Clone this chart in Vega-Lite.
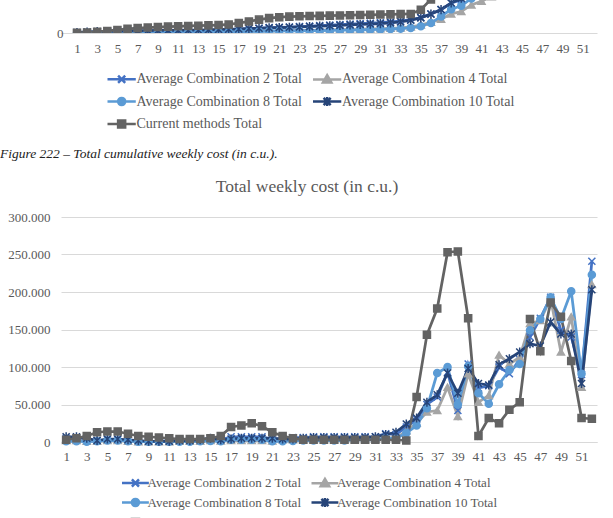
{
  "$schema": "https://vega.github.io/schema/vega-lite/v6.json",
  "padding": 0,
  "background": "white",
  "bounds": "flush",
  "spacing": 70,
  "resolve": {"scale": {"color": "independent", "stroke": "independent", "shape": "independent"}, "legend": {"color": "independent", "stroke": "independent", "shape": "independent"}},
  "config": {
    "font": "Liberation Serif",
    "view": {"stroke": null},
    "locale": {"number": {"decimal": ",", "thousands": ".", "grouping": [3], "currency": ["", " €"]}},
    "axis": {"labelFont": "Liberation Serif", "labelFontSize": 13, "labelColor": "#595959", "domainColor": "#d9d9d9", "gridColor": "#d9d9d9", "ticks": false, "title": null},
    "legend": {"labelFont": "Liberation Serif", "labelFontSize": 13, "labelColor": "#595959", "labelLimit": 400},
    "title": {"font": "Liberation Serif", "fontWeight": "normal"}
  },
  "datasets": {
    "weekly": [
      {"week": 1, "Average Combination 2 Total": 5000, "Average Combination 4 Total": 2000, "Average Combination 8 Total": 1000, "Average Combination 10 Total": 7000, "Current methods Total": 3000},
      {"week": 2, "Average Combination 2 Total": 5000, "Average Combination 4 Total": 2000, "Average Combination 8 Total": 1000, "Average Combination 10 Total": 7000, "Current methods Total": 5000},
      {"week": 3, "Average Combination 2 Total": 4000, "Average Combination 4 Total": 1000, "Average Combination 8 Total": 500, "Average Combination 10 Total": 5000, "Current methods Total": 8000},
      {"week": 4, "Average Combination 2 Total": 2000, "Average Combination 4 Total": 1000, "Average Combination 8 Total": 1000, "Average Combination 10 Total": 2000, "Current methods Total": 13000},
      {"week": 5, "Average Combination 2 Total": 3000, "Average Combination 4 Total": 2000, "Average Combination 8 Total": 2000, "Average Combination 10 Total": 4000, "Current methods Total": 14000},
      {"week": 6, "Average Combination 2 Total": 3000, "Average Combination 4 Total": 2000, "Average Combination 8 Total": 2000, "Average Combination 10 Total": 4000, "Current methods Total": 14000},
      {"week": 7, "Average Combination 2 Total": 2000, "Average Combination 4 Total": 1000, "Average Combination 8 Total": 1000, "Average Combination 10 Total": 3000, "Current methods Total": 11000},
      {"week": 8, "Average Combination 2 Total": 1000, "Average Combination 4 Total": 500, "Average Combination 8 Total": 500, "Average Combination 10 Total": 2000, "Current methods Total": 8000},
      {"week": 9, "Average Combination 2 Total": 1000, "Average Combination 4 Total": 500, "Average Combination 8 Total": 500, "Average Combination 10 Total": 1000, "Current methods Total": 7000},
      {"week": 10, "Average Combination 2 Total": 1000, "Average Combination 4 Total": 500, "Average Combination 8 Total": 500, "Average Combination 10 Total": 1000, "Current methods Total": 6000},
      {"week": 11, "Average Combination 2 Total": 2000, "Average Combination 4 Total": 500, "Average Combination 8 Total": 500, "Average Combination 10 Total": 1000, "Current methods Total": 5000},
      {"week": 12, "Average Combination 2 Total": 3000, "Average Combination 4 Total": 1000, "Average Combination 8 Total": 500, "Average Combination 10 Total": 2000, "Current methods Total": 4000},
      {"week": 13, "Average Combination 2 Total": 3000, "Average Combination 4 Total": 1000, "Average Combination 8 Total": 500, "Average Combination 10 Total": 2000, "Current methods Total": 4000},
      {"week": 14, "Average Combination 2 Total": 3000, "Average Combination 4 Total": 1000, "Average Combination 8 Total": 1000, "Average Combination 10 Total": 3000, "Current methods Total": 4000},
      {"week": 15, "Average Combination 2 Total": 5000, "Average Combination 4 Total": 2000, "Average Combination 8 Total": 1500, "Average Combination 10 Total": 5000, "Current methods Total": 5000},
      {"week": 16, "Average Combination 2 Total": 3000, "Average Combination 4 Total": 1500, "Average Combination 8 Total": 1000, "Average Combination 10 Total": 3000, "Current methods Total": 8000},
      {"week": 17, "Average Combination 2 Total": 7000, "Average Combination 4 Total": 2000, "Average Combination 8 Total": 3000, "Average Combination 10 Total": 4000, "Current methods Total": 20000},
      {"week": 18, "Average Combination 2 Total": 7000, "Average Combination 4 Total": 2000, "Average Combination 8 Total": 3000, "Average Combination 10 Total": 5000, "Current methods Total": 22000},
      {"week": 19, "Average Combination 2 Total": 7000, "Average Combination 4 Total": 2000, "Average Combination 8 Total": 3000, "Average Combination 10 Total": 5000, "Current methods Total": 25000},
      {"week": 20, "Average Combination 2 Total": 7000, "Average Combination 4 Total": 2000, "Average Combination 8 Total": 3000, "Average Combination 10 Total": 5000, "Current methods Total": 21000},
      {"week": 21, "Average Combination 2 Total": 4000, "Average Combination 4 Total": 1500, "Average Combination 8 Total": 1000, "Average Combination 10 Total": 5000, "Current methods Total": 13000},
      {"week": 22, "Average Combination 2 Total": 5000, "Average Combination 4 Total": 3000, "Average Combination 8 Total": 1000, "Average Combination 10 Total": 4000, "Current methods Total": 8000},
      {"week": 23, "Average Combination 2 Total": 6000, "Average Combination 4 Total": 3000, "Average Combination 8 Total": 1500, "Average Combination 10 Total": 4000, "Current methods Total": 5000},
      {"week": 24, "Average Combination 2 Total": 6000, "Average Combination 4 Total": 3000, "Average Combination 8 Total": 2000, "Average Combination 10 Total": 5000, "Current methods Total": 3000},
      {"week": 25, "Average Combination 2 Total": 7000, "Average Combination 4 Total": 3000, "Average Combination 8 Total": 2000, "Average Combination 10 Total": 6000, "Current methods Total": 3000},
      {"week": 26, "Average Combination 2 Total": 7000, "Average Combination 4 Total": 3000, "Average Combination 8 Total": 2000, "Average Combination 10 Total": 6000, "Current methods Total": 3000},
      {"week": 27, "Average Combination 2 Total": 7000, "Average Combination 4 Total": 3000, "Average Combination 8 Total": 2000, "Average Combination 10 Total": 6000, "Current methods Total": 3000},
      {"week": 28, "Average Combination 2 Total": 7000, "Average Combination 4 Total": 3000, "Average Combination 8 Total": 2000, "Average Combination 10 Total": 6000, "Current methods Total": 3000},
      {"week": 29, "Average Combination 2 Total": 7000, "Average Combination 4 Total": 3000, "Average Combination 8 Total": 3000, "Average Combination 10 Total": 6000, "Current methods Total": 3000},
      {"week": 30, "Average Combination 2 Total": 7000, "Average Combination 4 Total": 3000, "Average Combination 8 Total": 3000, "Average Combination 10 Total": 6000, "Current methods Total": 3000},
      {"week": 31, "Average Combination 2 Total": 7000, "Average Combination 4 Total": 4000, "Average Combination 8 Total": 3000, "Average Combination 10 Total": 7000, "Current methods Total": 3000},
      {"week": 32, "Average Combination 2 Total": 11000, "Average Combination 4 Total": 6000, "Average Combination 8 Total": 5000, "Average Combination 10 Total": 10000, "Current methods Total": 3000},
      {"week": 33, "Average Combination 2 Total": 10000, "Average Combination 4 Total": 5000, "Average Combination 8 Total": 5000, "Average Combination 10 Total": 13000, "Current methods Total": 3000},
      {"week": 34, "Average Combination 2 Total": 20000, "Average Combination 4 Total": 15000, "Average Combination 8 Total": 12000, "Average Combination 10 Total": 24000, "Current methods Total": 2000},
      {"week": 35, "Average Combination 2 Total": 30000, "Average Combination 4 Total": 25000, "Average Combination 8 Total": 22000, "Average Combination 10 Total": 32000, "Current methods Total": 60000},
      {"week": 36, "Average Combination 2 Total": 50000, "Average Combination 4 Total": 40000, "Average Combination 8 Total": 45000, "Average Combination 10 Total": 53000, "Current methods Total": 143000},
      {"week": 37, "Average Combination 2 Total": 60000, "Average Combination 4 Total": 42000, "Average Combination 8 Total": 92000, "Average Combination 10 Total": 63000, "Current methods Total": 178000},
      {"week": 38, "Average Combination 2 Total": 93000, "Average Combination 4 Total": 73000, "Average Combination 8 Total": 100000, "Average Combination 10 Total": 92000, "Current methods Total": 253000},
      {"week": 39, "Average Combination 2 Total": 42000, "Average Combination 4 Total": 34000, "Average Combination 8 Total": 50000, "Average Combination 10 Total": 65000, "Current methods Total": 254000},
      {"week": 40, "Average Combination 2 Total": 104000, "Average Combination 4 Total": 91000, "Average Combination 8 Total": 101000, "Average Combination 10 Total": 98000, "Current methods Total": 165000},
      {"week": 41, "Average Combination 2 Total": 72000, "Average Combination 4 Total": 53000, "Average Combination 8 Total": 65000, "Average Combination 10 Total": 78000, "Current methods Total": 8000},
      {"week": 42, "Average Combination 2 Total": 75000, "Average Combination 4 Total": 62000, "Average Combination 8 Total": 51000, "Average Combination 10 Total": 76000, "Current methods Total": 32000},
      {"week": 43, "Average Combination 2 Total": 100000, "Average Combination 4 Total": 116000, "Average Combination 8 Total": 77000, "Average Combination 10 Total": 103000, "Current methods Total": 25000},
      {"week": 44, "Average Combination 2 Total": 91000, "Average Combination 4 Total": 104000, "Average Combination 8 Total": 96000, "Average Combination 10 Total": 111000, "Current methods Total": 43000},
      {"week": 45, "Average Combination 2 Total": 110000, "Average Combination 4 Total": 113000, "Average Combination 8 Total": 104000, "Average Combination 10 Total": 120000, "Current methods Total": 53000},
      {"week": 46, "Average Combination 2 Total": 140000, "Average Combination 4 Total": 158000, "Average Combination 8 Total": 149000, "Average Combination 10 Total": 131000, "Current methods Total": 164000},
      {"week": 47, "Average Combination 2 Total": 165000, "Average Combination 4 Total": 162000, "Average Combination 8 Total": 164000, "Average Combination 10 Total": 128000, "Current methods Total": 121000},
      {"week": 48, "Average Combination 2 Total": 193000, "Average Combination 4 Total": 191000, "Average Combination 8 Total": 193000, "Average Combination 10 Total": 160000, "Current methods Total": 186000},
      {"week": 49, "Average Combination 2 Total": 149000, "Average Combination 4 Total": 120000, "Average Combination 8 Total": 164000, "Average Combination 10 Total": 144000, "Current methods Total": 167000},
      {"week": 50, "Average Combination 2 Total": 140000, "Average Combination 4 Total": 167000, "Average Combination 8 Total": 201000, "Average Combination 10 Total": 144000, "Current methods Total": 108000},
      {"week": 51, "Average Combination 2 Total": 90000, "Average Combination 4 Total": 73000, "Average Combination 8 Total": 91000, "Average Combination 10 Total": 78000, "Current methods Total": 32000},
      {"week": 52, "Average Combination 2 Total": 241000, "Average Combination 4 Total": 210000, "Average Combination 8 Total": 223000, "Average Combination 10 Total": 203000, "Current methods Total": 31000}
    ],
    "cumulative": [
      {"week": 1, "Average Combination 2 Total": 5000, "Average Combination 4 Total": 2000, "Average Combination 8 Total": 1000, "Average Combination 10 Total": 7000, "Current methods Total": 3000},
      {"week": 2, "Average Combination 2 Total": 10000, "Average Combination 4 Total": 4000, "Average Combination 8 Total": 2000, "Average Combination 10 Total": 14000, "Current methods Total": 8000},
      {"week": 3, "Average Combination 2 Total": 14000, "Average Combination 4 Total": 5000, "Average Combination 8 Total": 2500, "Average Combination 10 Total": 19000, "Current methods Total": 16000},
      {"week": 4, "Average Combination 2 Total": 16000, "Average Combination 4 Total": 6000, "Average Combination 8 Total": 3500, "Average Combination 10 Total": 21000, "Current methods Total": 29000},
      {"week": 5, "Average Combination 2 Total": 19000, "Average Combination 4 Total": 8000, "Average Combination 8 Total": 5500, "Average Combination 10 Total": 25000, "Current methods Total": 43000},
      {"week": 6, "Average Combination 2 Total": 22000, "Average Combination 4 Total": 10000, "Average Combination 8 Total": 7500, "Average Combination 10 Total": 29000, "Current methods Total": 57000},
      {"week": 7, "Average Combination 2 Total": 24000, "Average Combination 4 Total": 11000, "Average Combination 8 Total": 8500, "Average Combination 10 Total": 32000, "Current methods Total": 68000},
      {"week": 8, "Average Combination 2 Total": 25000, "Average Combination 4 Total": 11500, "Average Combination 8 Total": 9000, "Average Combination 10 Total": 34000, "Current methods Total": 76000},
      {"week": 9, "Average Combination 2 Total": 26000, "Average Combination 4 Total": 12000, "Average Combination 8 Total": 9500, "Average Combination 10 Total": 35000, "Current methods Total": 83000},
      {"week": 10, "Average Combination 2 Total": 27000, "Average Combination 4 Total": 12500, "Average Combination 8 Total": 10000, "Average Combination 10 Total": 36000, "Current methods Total": 89000},
      {"week": 11, "Average Combination 2 Total": 29000, "Average Combination 4 Total": 13000, "Average Combination 8 Total": 10500, "Average Combination 10 Total": 37000, "Current methods Total": 94000},
      {"week": 12, "Average Combination 2 Total": 32000, "Average Combination 4 Total": 14000, "Average Combination 8 Total": 11000, "Average Combination 10 Total": 39000, "Current methods Total": 98000},
      {"week": 13, "Average Combination 2 Total": 35000, "Average Combination 4 Total": 15000, "Average Combination 8 Total": 11500, "Average Combination 10 Total": 41000, "Current methods Total": 102000},
      {"week": 14, "Average Combination 2 Total": 38000, "Average Combination 4 Total": 16000, "Average Combination 8 Total": 12500, "Average Combination 10 Total": 44000, "Current methods Total": 106000},
      {"week": 15, "Average Combination 2 Total": 43000, "Average Combination 4 Total": 18000, "Average Combination 8 Total": 14000, "Average Combination 10 Total": 49000, "Current methods Total": 111000},
      {"week": 16, "Average Combination 2 Total": 46000, "Average Combination 4 Total": 19500, "Average Combination 8 Total": 15000, "Average Combination 10 Total": 52000, "Current methods Total": 119000},
      {"week": 17, "Average Combination 2 Total": 53000, "Average Combination 4 Total": 21500, "Average Combination 8 Total": 18000, "Average Combination 10 Total": 56000, "Current methods Total": 139000},
      {"week": 18, "Average Combination 2 Total": 60000, "Average Combination 4 Total": 23500, "Average Combination 8 Total": 21000, "Average Combination 10 Total": 61000, "Current methods Total": 161000},
      {"week": 19, "Average Combination 2 Total": 67000, "Average Combination 4 Total": 25500, "Average Combination 8 Total": 24000, "Average Combination 10 Total": 66000, "Current methods Total": 186000},
      {"week": 20, "Average Combination 2 Total": 74000, "Average Combination 4 Total": 27500, "Average Combination 8 Total": 27000, "Average Combination 10 Total": 71000, "Current methods Total": 207000},
      {"week": 21, "Average Combination 2 Total": 78000, "Average Combination 4 Total": 29000, "Average Combination 8 Total": 28000, "Average Combination 10 Total": 76000, "Current methods Total": 220000},
      {"week": 22, "Average Combination 2 Total": 83000, "Average Combination 4 Total": 32000, "Average Combination 8 Total": 29000, "Average Combination 10 Total": 80000, "Current methods Total": 228000},
      {"week": 23, "Average Combination 2 Total": 89000, "Average Combination 4 Total": 35000, "Average Combination 8 Total": 30500, "Average Combination 10 Total": 84000, "Current methods Total": 233000},
      {"week": 24, "Average Combination 2 Total": 95000, "Average Combination 4 Total": 38000, "Average Combination 8 Total": 32500, "Average Combination 10 Total": 89000, "Current methods Total": 236000},
      {"week": 25, "Average Combination 2 Total": 102000, "Average Combination 4 Total": 41000, "Average Combination 8 Total": 34500, "Average Combination 10 Total": 95000, "Current methods Total": 239000},
      {"week": 26, "Average Combination 2 Total": 109000, "Average Combination 4 Total": 44000, "Average Combination 8 Total": 36500, "Average Combination 10 Total": 101000, "Current methods Total": 242000},
      {"week": 27, "Average Combination 2 Total": 116000, "Average Combination 4 Total": 47000, "Average Combination 8 Total": 38500, "Average Combination 10 Total": 107000, "Current methods Total": 245000},
      {"week": 28, "Average Combination 2 Total": 123000, "Average Combination 4 Total": 50000, "Average Combination 8 Total": 40500, "Average Combination 10 Total": 113000, "Current methods Total": 248000},
      {"week": 29, "Average Combination 2 Total": 130000, "Average Combination 4 Total": 53000, "Average Combination 8 Total": 43500, "Average Combination 10 Total": 119000, "Current methods Total": 251000},
      {"week": 30, "Average Combination 2 Total": 137000, "Average Combination 4 Total": 56000, "Average Combination 8 Total": 46500, "Average Combination 10 Total": 125000, "Current methods Total": 254000},
      {"week": 31, "Average Combination 2 Total": 144000, "Average Combination 4 Total": 60000, "Average Combination 8 Total": 49500, "Average Combination 10 Total": 132000, "Current methods Total": 257000},
      {"week": 32, "Average Combination 2 Total": 155000, "Average Combination 4 Total": 66000, "Average Combination 8 Total": 54500, "Average Combination 10 Total": 142000, "Current methods Total": 260000},
      {"week": 33, "Average Combination 2 Total": 165000, "Average Combination 4 Total": 71000, "Average Combination 8 Total": 59500, "Average Combination 10 Total": 155000, "Current methods Total": 263000},
      {"week": 34, "Average Combination 2 Total": 185000, "Average Combination 4 Total": 86000, "Average Combination 8 Total": 71500, "Average Combination 10 Total": 179000, "Current methods Total": 265000},
      {"week": 35, "Average Combination 2 Total": 215000, "Average Combination 4 Total": 111000, "Average Combination 8 Total": 93500, "Average Combination 10 Total": 211000, "Current methods Total": 325000},
      {"week": 36, "Average Combination 2 Total": 265000, "Average Combination 4 Total": 151000, "Average Combination 8 Total": 138500, "Average Combination 10 Total": 264000, "Current methods Total": 468000},
      {"week": 37, "Average Combination 2 Total": 325000, "Average Combination 4 Total": 193000, "Average Combination 8 Total": 230500, "Average Combination 10 Total": 327000, "Current methods Total": 646000},
      {"week": 38, "Average Combination 2 Total": 418000, "Average Combination 4 Total": 266000, "Average Combination 8 Total": 330500, "Average Combination 10 Total": 419000, "Current methods Total": null},
      {"week": 39, "Average Combination 2 Total": 460000, "Average Combination 4 Total": 300000, "Average Combination 8 Total": 380500, "Average Combination 10 Total": 484000, "Current methods Total": null},
      {"week": 40, "Average Combination 2 Total": 564000, "Average Combination 4 Total": 391000, "Average Combination 8 Total": 481500, "Average Combination 10 Total": 582000, "Current methods Total": null},
      {"week": 41, "Average Combination 2 Total": null, "Average Combination 4 Total": 444000, "Average Combination 8 Total": 546500, "Average Combination 10 Total": null, "Current methods Total": null},
      {"week": 42, "Average Combination 2 Total": null, "Average Combination 4 Total": 506000, "Average Combination 8 Total": null, "Average Combination 10 Total": null, "Current methods Total": null}
    ]
  },
  "vconcat": [
    {
      "width": 536,
      "height": 33,
      "data": {"name": "cumulative"},
      "transform": [
        {"fold": ["Average Combination 2 Total", "Average Combination 4 Total", "Average Combination 8 Total", "Average Combination 10 Total", "Current methods Total"], "as": ["series", "cost"]},
        {"filter": "datum.cost != null"}
      ],
      "encoding": {
        "x": {"field": "week", "type": "ordinal",
          "scale": {"type": "point", "padding": 1.195, "align": 0.79, "domain": [1,2,3,4,5,6,7,8,9,10,11,12,13,14,15,16,17,18,19,20,21,22,23,24,25,26,27,28,29,30,31,32,33,34,35,36,37,38,39,40,41,42,43,44,45,46,47,48,49,50,51,52]},
          "axis": {"values": [1,3,5,7,9,11,13,15,17,19,21,23,25,27,29,31,33,35,37,39,41,43,45,47,49,51], "labelAngle": 0, "labelPadding": 9, "grid": false}},
        "y": {"field": "cost", "type": "quantitative", "scale": {"domain": [0, 460000], "nice": false},
          "axis": {"values": [0], "grid": false, "domain": false, "labelPadding": 10, "offset": -12}}
      },
      "resolve": {"scale": {"color": "independent", "stroke": "independent", "shape": "independent"}},
      "layer": [
        {
          "mark": {"type": "line", "strokeWidth": 2.75, "clip": true},
          "encoding": {
            "color": {"field": "series", "type": "nominal", "legend": null,
              "scale": {"domain": ["Average Combination 2 Total", "Average Combination 4 Total", "Average Combination 8 Total", "Average Combination 10 Total", "Current methods Total"], "range": ["#4472C4", "#A5A5A5", "#5B9BD5", "#264478", "#636363"]}}
          }
        },
        {
          "mark": {"type": "point", "filled": true, "strokeWidth": 1.5, "size": 50, "opacity": 1, "clip": true},
          "encoding": {
            "color": {"field": "series", "type": "nominal", "legend": null,
              "scale": {"domain": ["Average Combination 2 Total", "Average Combination 4 Total", "Average Combination 8 Total", "Average Combination 10 Total", "Current methods Total"], "range": ["#4472C4", "#A5A5A5", "#5B9BD5", "#264478", "#636363"]}},
            "stroke": {"field": "series", "type": "nominal", "legend": null,
              "scale": {"domain": ["Average Combination 2 Total", "Average Combination 4 Total", "Average Combination 8 Total", "Average Combination 10 Total", "Current methods Total"], "range": ["#4472C4", "#A5A5A5", "#5B9BD5", "#264478", "#636363"]}},
            "shape": {"field": "series", "type": "nominal", "legend": null,
              "scale": {"domain": ["Average Combination 2 Total", "Average Combination 4 Total", "Average Combination 8 Total", "Average Combination 10 Total", "Current methods Total"], "range": ["M-1,-1L1,1M-1,1L1,-1", "triangle-up", "circle", "M-1,-1L1,1M-1,1L1,-1M0,-1.3L0,1.3", "square"]}}
          }
        },
        {
          "mark": {"type": "point", "filled": true, "size": 50, "opacity": 0, "clip": true},
          "encoding": {
            "color": {"field": "series", "type": "nominal",
              "scale": {"domain": ["Average Combination 2 Total", "Average Combination 4 Total", "Average Combination 8 Total", "Average Combination 10 Total", "Current methods Total"], "range": ["#4472C4", "#A5A5A5", "#5B9BD5", "#264478", "#636363"]},
              "legend": {"orient": "none", "legendX": 39.5, "legendY": 72, "columns": 2, "direction": "horizontal", "title": null, "padding": 0, "labelFontSize": 14, "symbolSize": 50, "symbolStrokeWidth": 2.5, "symbolOpacity": 1, "labelOffset": 22, "columnPadding": 3.5, "rowPadding": 3.5}},
            "stroke": {"field": "series", "type": "nominal",
              "scale": {"domain": ["Average Combination 2 Total", "Average Combination 4 Total", "Average Combination 8 Total", "Average Combination 10 Total", "Current methods Total"], "range": ["#4472C4", "#A5A5A5", "#5B9BD5", "#264478", "#636363"]},
              "legend": {"orient": "none", "legendX": 39.5, "legendY": 72, "columns": 2, "direction": "horizontal", "title": null, "padding": 0, "labelFontSize": 14, "symbolSize": 50, "symbolStrokeWidth": 2.5, "symbolOpacity": 1, "labelOffset": 22, "columnPadding": 3.5, "rowPadding": 3.5}},
            "shape": {"field": "series", "type": "nominal",
              "scale": {"domain": ["Average Combination 2 Total", "Average Combination 4 Total", "Average Combination 8 Total", "Average Combination 10 Total", "Current methods Total"], "range": ["M0,0L8,0M3,-1L5,1M3,1L5,-1", "M0,0L8,0M4,-1.2L5.2,0.9L2.8,0.9Z", "M0,0L8,0M5,0A1,1,0,1,1,3,0A1,1,0,1,1,5,0Z", "M0,0L8,0M3,-1L5,1M3,1L5,-1M4,-1.3L4,1.3", "M0,0L8,0M3,-1H5V1H3Z"]},
              "legend": {"orient": "none", "legendX": 39.5, "legendY": 72, "columns": 2, "direction": "horizontal", "title": null, "padding": 0, "labelFontSize": 14, "symbolSize": 50, "symbolStrokeWidth": 2.5, "symbolOpacity": 1, "labelOffset": 22, "columnPadding": 3.5, "rowPadding": 3.5}}
          }
        }
      ]
    },
    {
      "width": 536,
      "height": 44,
      "title": {"text": "Figure 222 – Total cumulative weekly cost (in c.u.).", "orient": "bottom", "anchor": "start", "frame": "group", "dx": -61, "offset": 0, "font": "Liberation Serif", "fontStyle": "italic", "fontWeight": "normal", "fontSize": 13.5, "color": "#222222"},
      "data": {"values": [{}]},
      "mark": {"type": "rule", "opacity": 0},
      "encoding": {}
    },
    {
      "width": 536,
      "height": 225,
      "title": {"text": "Total weekly cost (in c.u.)", "anchor": "middle", "frame": "group", "dx": -22, "offset": 16, "font": "Liberation Serif", "fontWeight": "normal", "fontSize": 17.5, "color": "#595959"},
      "data": {"name": "weekly"},
      "transform": [
        {"fold": ["Average Combination 2 Total", "Average Combination 4 Total", "Average Combination 8 Total", "Average Combination 10 Total", "Current methods Total"], "as": ["series", "cost"]}
      ],
      "encoding": {
        "x": {"field": "week", "type": "ordinal", "scale": {"type": "point", "padding": 0.5},
          "axis": {"values": [1,3,5,7,9,11,13,15,17,19,21,23,25,27,29,31,33,35,37,39,41,43,45,47,49,51], "labelAngle": 0, "labelPadding": 8, "grid": false}},
        "y": {"field": "cost", "type": "quantitative", "scale": {"domain": [0, 300000], "nice": false},
          "axis": {"values": [0, 50000, 100000, 150000, 200000, 250000, 300000], "format": ",d", "grid": true, "domain": false, "labelPadding": 11}}
      },
      "resolve": {"scale": {"color": "independent", "stroke": "independent", "shape": "independent"}},
      "layer": [
        {
          "mark": {"type": "line", "strokeWidth": 2.75},
          "encoding": {
            "color": {"field": "series", "type": "nominal", "legend": null,
              "scale": {"domain": ["Average Combination 2 Total", "Average Combination 4 Total", "Average Combination 8 Total", "Average Combination 10 Total", "Current methods Total"], "range": ["#4472C4", "#A5A5A5", "#5B9BD5", "#264478", "#636363"]}}
          }
        },
        {
          "mark": {"type": "point", "filled": true, "strokeWidth": 1.5, "size": 50, "opacity": 1},
          "encoding": {
            "color": {"field": "series", "type": "nominal", "legend": null,
              "scale": {"domain": ["Average Combination 2 Total", "Average Combination 4 Total", "Average Combination 8 Total", "Average Combination 10 Total", "Current methods Total"], "range": ["#4472C4", "#A5A5A5", "#5B9BD5", "#264478", "#636363"]}},
            "stroke": {"field": "series", "type": "nominal", "legend": null,
              "scale": {"domain": ["Average Combination 2 Total", "Average Combination 4 Total", "Average Combination 8 Total", "Average Combination 10 Total", "Current methods Total"], "range": ["#4472C4", "#A5A5A5", "#5B9BD5", "#264478", "#636363"]}},
            "shape": {"field": "series", "type": "nominal", "legend": null,
              "scale": {"domain": ["Average Combination 2 Total", "Average Combination 4 Total", "Average Combination 8 Total", "Average Combination 10 Total", "Current methods Total"], "range": ["M-1,-1L1,1M-1,1L1,-1", "triangle-up", "circle", "M-1,-1L1,1M-1,1L1,-1M0,-1.3L0,1.3", "square"]}}
          }
        },
        {
          "mark": {"type": "point", "filled": true, "size": 50, "opacity": 0},
          "encoding": {
            "color": {"field": "series", "type": "nominal",
              "scale": {"domain": ["Average Combination 2 Total", "Average Combination 4 Total", "Average Combination 8 Total", "Average Combination 10 Total", "Current methods Total"], "range": ["#4472C4", "#A5A5A5", "#5B9BD5", "#264478", "#636363"]},
              "legend": {"orient": "none", "legendX": 54.5, "legendY": 259, "columns": 2, "direction": "horizontal", "title": null, "padding": 0, "symbolSize": 50, "symbolStrokeWidth": 2.5, "symbolOpacity": 1, "labelOffset": 19, "columnPadding": 3.5, "rowPadding": 0}},
            "stroke": {"field": "series", "type": "nominal",
              "scale": {"domain": ["Average Combination 2 Total", "Average Combination 4 Total", "Average Combination 8 Total", "Average Combination 10 Total", "Current methods Total"], "range": ["#4472C4", "#A5A5A5", "#5B9BD5", "#264478", "#636363"]},
              "legend": {"orient": "none", "legendX": 54.5, "legendY": 259, "columns": 2, "direction": "horizontal", "title": null, "padding": 0, "symbolSize": 50, "symbolStrokeWidth": 2.5, "symbolOpacity": 1, "labelOffset": 19, "columnPadding": 3.5, "rowPadding": 0}},
            "shape": {"field": "series", "type": "nominal",
              "scale": {"domain": ["Average Combination 2 Total", "Average Combination 4 Total", "Average Combination 8 Total", "Average Combination 10 Total", "Current methods Total"], "range": ["M0,0L7.6,0M2.8,-1L4.8,1M2.8,1L4.8,-1", "M0,0L7.6,0M3.8,-1.2L5,0.9L2.6,0.9Z", "M0,0L7.6,0M4.8,0A1,1,0,1,1,2.8,0A1,1,0,1,1,4.8,0Z", "M0,0L7.6,0M2.8,-1L4.8,1M2.8,1L4.8,-1M3.8,-1.3L3.8,1.3", "M0,0L7.6,0M2.8,-1H4.8V1H2.8Z"]},
              "legend": {"orient": "none", "legendX": 54.5, "legendY": 259, "columns": 2, "direction": "horizontal", "title": null, "padding": 0, "symbolSize": 50, "symbolStrokeWidth": 2.5, "symbolOpacity": 1, "labelOffset": 19, "columnPadding": 3.5, "rowPadding": 0}}
          }
        }
      ]
    }
  ]
}
